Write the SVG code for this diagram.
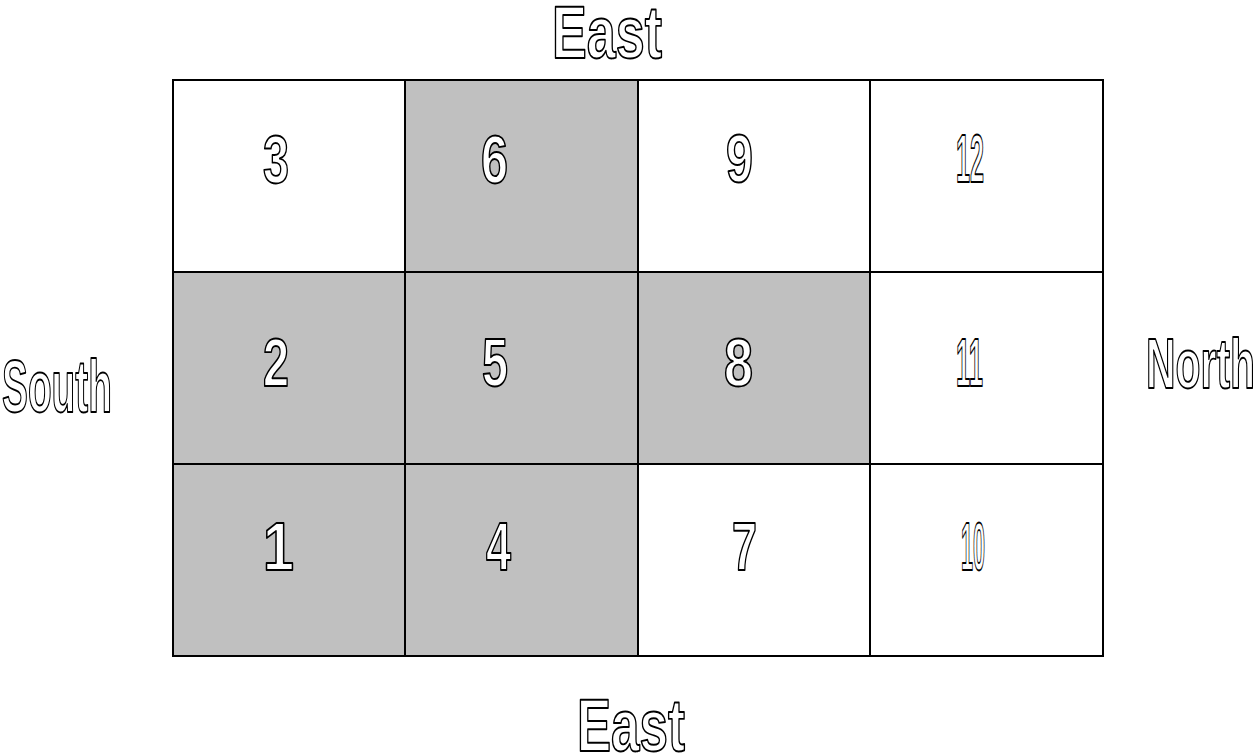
<svg xmlns="http://www.w3.org/2000/svg" width="1257" height="755" viewBox="0 0 1257 755">
<style>
.cell{stroke:#000;stroke-width:2;fill:#fff}
.g{fill:#c0c0c0}
.t{font-family:"Liberation Sans",Arial,sans-serif;font-weight:bold;fill:#fff;stroke:#000;stroke-width:1.9;stroke-linejoin:round}
.n{font-size:68px}
.l{font-size:74px}
</style>
<rect width="1257" height="755" fill="#fff"/>
<g id="cell3"><rect class="cell" x="173" y="80" width="232" height="192"/><text class="t n" x="263" y="183" textLength="26" lengthAdjust="spacingAndGlyphs">3</text></g>
<g id="cell6"><rect class="cell g" x="405" y="80" width="233" height="192"/><text class="t n" x="481" y="183" textLength="27" lengthAdjust="spacingAndGlyphs">6</text></g>
<g id="cell9"><rect class="cell" x="638" y="80" width="232" height="192"/><text class="t n" x="726" y="182" textLength="27" lengthAdjust="spacingAndGlyphs">9</text></g>
<g id="cell12"><rect class="cell" x="870" y="80" width="233" height="192"/><text class="t n" x="956" y="182" textLength="28" lengthAdjust="spacingAndGlyphs">12</text></g>
<g id="cell2"><rect class="cell g" x="173" y="272" width="232" height="192"/><text class="t n" x="263" y="386" textLength="26" lengthAdjust="spacingAndGlyphs">2</text></g>
<g id="cell5"><rect class="cell g" x="405" y="272" width="233" height="192"/><text class="t n" x="482" y="386" textLength="26" lengthAdjust="spacingAndGlyphs">5</text></g>
<g id="cell8"><rect class="cell g" x="638" y="272" width="232" height="192"/><text class="t n" x="724" y="386" textLength="29" lengthAdjust="spacingAndGlyphs">8</text></g>
<g id="cell11"><rect class="cell" x="870" y="272" width="233" height="192"/><text class="t n" x="956" y="386" textLength="27" lengthAdjust="spacingAndGlyphs">11</text></g>
<g id="cell1"><rect class="cell g" x="173" y="464" width="232" height="192"/><text class="t n" x="263" y="570" textLength="31" lengthAdjust="spacingAndGlyphs">1</text></g>
<g id="cell4"><rect class="cell g" x="405" y="464" width="233" height="192"/><text class="t n" x="486" y="570" textLength="25" lengthAdjust="spacingAndGlyphs">4</text></g>
<g id="cell7"><rect class="cell" x="638" y="464" width="232" height="192"/><text class="t n" x="732" y="570" textLength="25" lengthAdjust="spacingAndGlyphs">7</text></g>
<g id="cell10"><rect class="cell" x="870" y="464" width="233" height="192"/><text class="t n" x="961" y="570" textLength="24" lengthAdjust="spacingAndGlyphs">10</text></g>
<g id="labels">
<text class="t l" x="552" y="58" textLength="110" lengthAdjust="spacingAndGlyphs">East</text>
<text class="t l" x="2" y="412" textLength="110" lengthAdjust="spacingAndGlyphs">South</text>
<text class="t" style="font-size:71px" x="1146" y="388" textLength="109" lengthAdjust="spacingAndGlyphs">North</text>
<text class="t" style="font-size:74px" x="577" y="751" textLength="108" lengthAdjust="spacingAndGlyphs">East</text>
</g>
<g id="connectors"></g>
</svg>
